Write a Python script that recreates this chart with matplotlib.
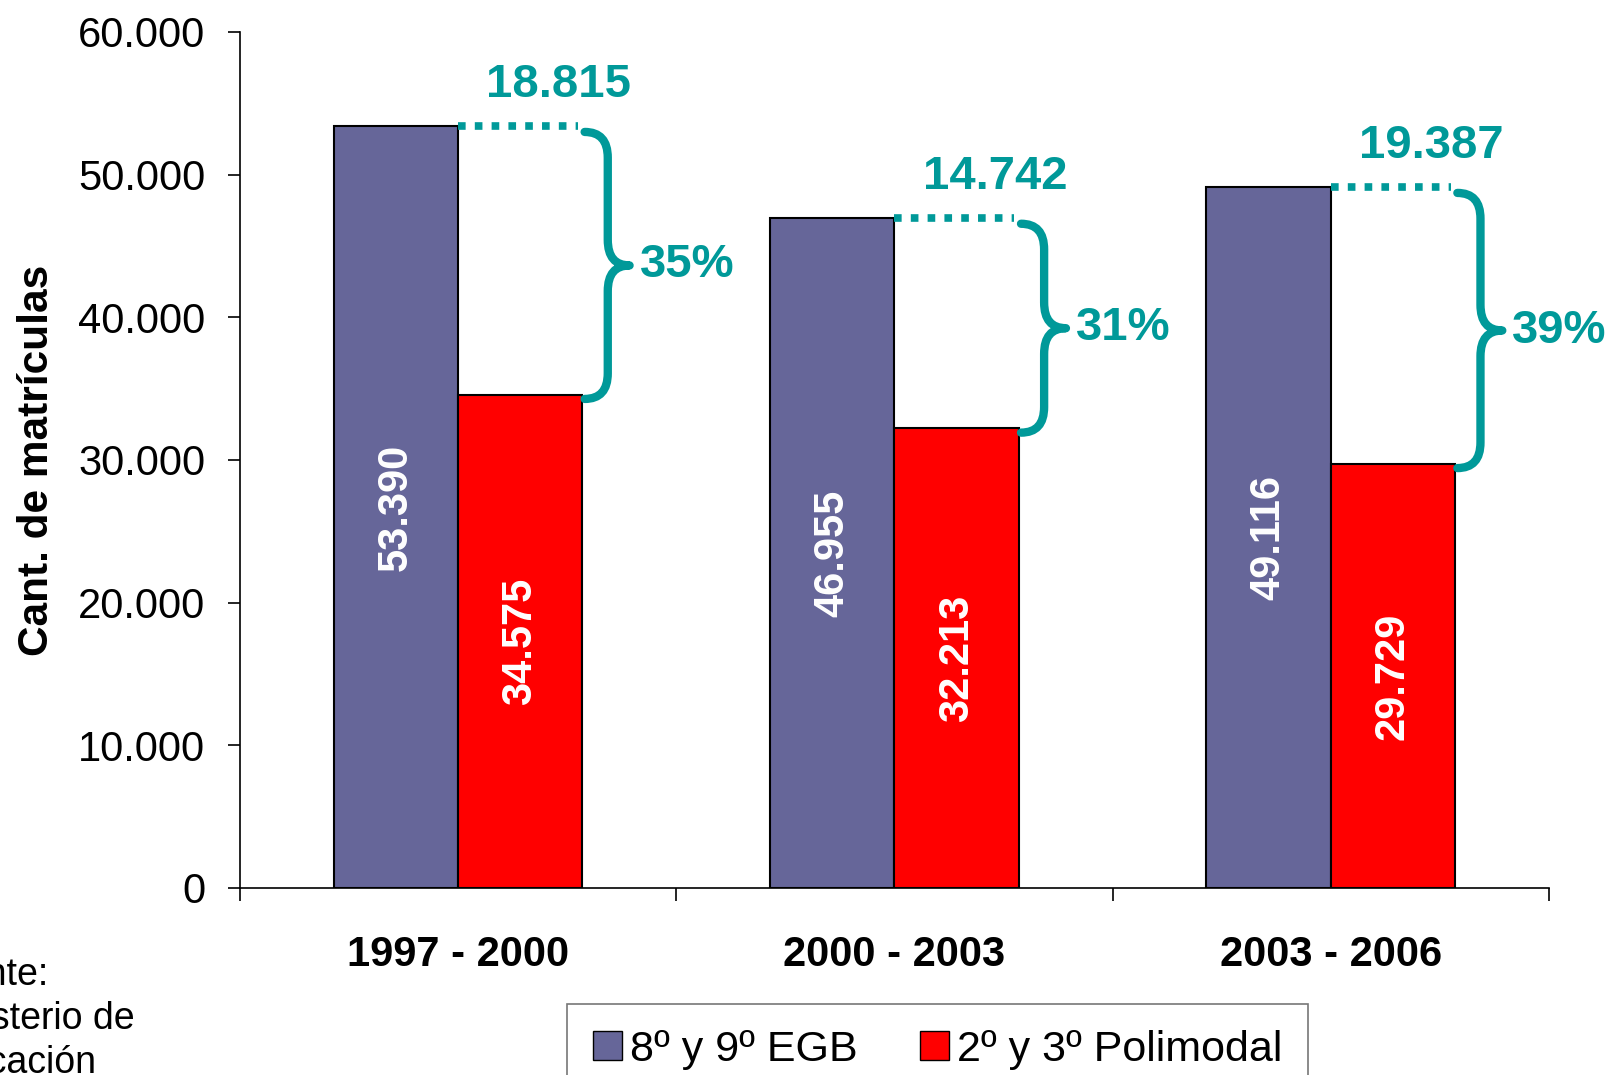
import matplotlib
matplotlib.use("Agg")
import matplotlib.pyplot as plt
from matplotlib.patches import Patch, PathPatch
from matplotlib.path import Path
from matplotlib.ticker import FuncFormatter

plt.rcParams['font.family'] = ['Liberation Sans', 'DejaVu Sans']

# datos
periodos = ["1997 - 2000", "2000 - 2003", "2003 - 2006"]
egb = [53390, 46955, 49116]
polimodal = [34575, 32213, 29729]
series_names = ["8º y 9º EGB", "2º y 3º Polimodal"]
fuente = ["Fuente:", "Ministerio de", "Educación"]

col_egb = "#666699"
col_pol = "#FF0000"
teal = "#009999"


def miles(v):
    return f"{int(v):,}".replace(",", ".")


def brace(ax, x0, y_top, y_bot, w, tip, r):
    ym = (y_top + y_bot) / 2
    verts = [(x0, y_top), (x0 + w, y_top), (x0 + w, y_top - r),
             (x0 + w, ym + r),
             (x0 + w, ym), (x0 + w + tip, ym),
             (x0 + w, ym), (x0 + w, ym - r),
             (x0 + w, y_bot + r),
             (x0 + w, y_bot), (x0, y_bot)]
    codes = [Path.MOVETO, Path.CURVE3, Path.CURVE3,
             Path.LINETO,
             Path.CURVE3, Path.CURVE3,
             Path.CURVE3, Path.CURVE3,
             Path.LINETO,
             Path.CURVE3, Path.CURVE3]
    p = PathPatch(Path(verts, codes), fill=False, edgecolor=teal, lw=6,
                  capstyle='round', joinstyle='round', clip_on=False)
    ax.add_patch(p)
    return ym


fig = plt.figure(figsize=(16.07, 10.75), dpi=100)
ax = fig.add_axes([0.1493, 0.174, 0.8146, 0.7963])

x = list(range(len(periodos)))
w = 0.285
ax.bar([i - w / 2 for i in x], egb, width=w, color=col_egb, edgecolor='black', linewidth=1.5)
ax.bar([i + w / 2 for i in x], polimodal, width=w, color=col_pol, edgecolor='black', linewidth=1.5)

for i in x:
    ax.text(i - w / 2, egb[i] / 2, miles(egb[i]), rotation=90, ha='center', va='center',
            color='white', fontsize=30, fontweight='bold')
    ax.text(i + w / 2, polimodal[i] / 2, miles(polimodal[i]), rotation=90, ha='center',
            va='center', color='white', fontsize=30, fontweight='bold')

    dif = egb[i] - polimodal[i]
    pct = round(dif / egb[i] * 100)
    # linea punteada desde la barra violeta
    ax.plot([i, i + w - 0.01], [egb[i], egb[i]], color=teal, lw=5.5,
            dashes=(1, 1.2), dash_capstyle='butt', clip_on=False)
    ax.text(i + 0.23, egb[i] + 2900, miles(dif), ha='center', va='center',
            color=teal, fontsize=34, fontweight='bold')
    ym = brace(ax, i + w + 0.005, egb[i] - 400, polimodal[i] - 300, 0.053, 0.05, 1800)
    ax.text(i + w + 0.005 + 0.053 + 0.05 + 0.023, ym, f"{pct}%", ha='left', va='center',
            color=teal, fontsize=34, fontweight='bold', clip_on=False)

ax.set_xlim(-0.5, 2.5)
ax.set_ylim(0, 60000)
ax.set_yticks(range(0, 60001, 10000))
ax.yaxis.set_major_formatter(FuncFormatter(lambda v, p: miles(v)))
ax.tick_params(axis='y', labelsize=30, length=9, width=1.2, pad=16, direction='out')

ax.set_xticks(x)
ax.set_xticklabels(periodos, fontsize=30, fontweight='bold')
ax.tick_params(axis='x', which='major', length=0, pad=34)
ax.set_xticks([-0.5, 0.5, 1.5, 2.5], minor=True)
ax.tick_params(axis='x', which='minor', length=9, width=1.2, direction='out')

for s in ['top', 'right']:
    ax.spines[s].set_visible(False)
for s in ['left', 'bottom']:
    ax.spines[s].set_linewidth(1.2)

ax.set_ylabel("Cant. de matrículas", fontsize=30.5, fontweight='bold', va='center')
ax.yaxis.set_label_coords(-0.155, 0.5)

handles = [Patch(facecolor=col_egb, edgecolor='black'),
           Patch(facecolor=col_pol, edgecolor='black')]
leg = fig.legend(handles, series_names, loc='upper left', bbox_to_anchor=(0.353, 0.066),
                 bbox_transform=fig.transFigure, ncol=2, fontsize=31, frameon=True,
                 fancybox=False, borderpad=0.6, borderaxespad=0, handlelength=0.66,
                 handleheight=0.66, handletextpad=0.2, columnspacing=1.45)
leg.get_frame().set_edgecolor('#555555')
leg.get_frame().set_linewidth(1.2)

for k, linea in enumerate(fuente):
    fig.text(-78 / 1607, 1 - (985 + 44 * k) / 1075, linea, fontsize=27, va='baseline', ha='left')

fig.savefig("out.png", dpi=100)
